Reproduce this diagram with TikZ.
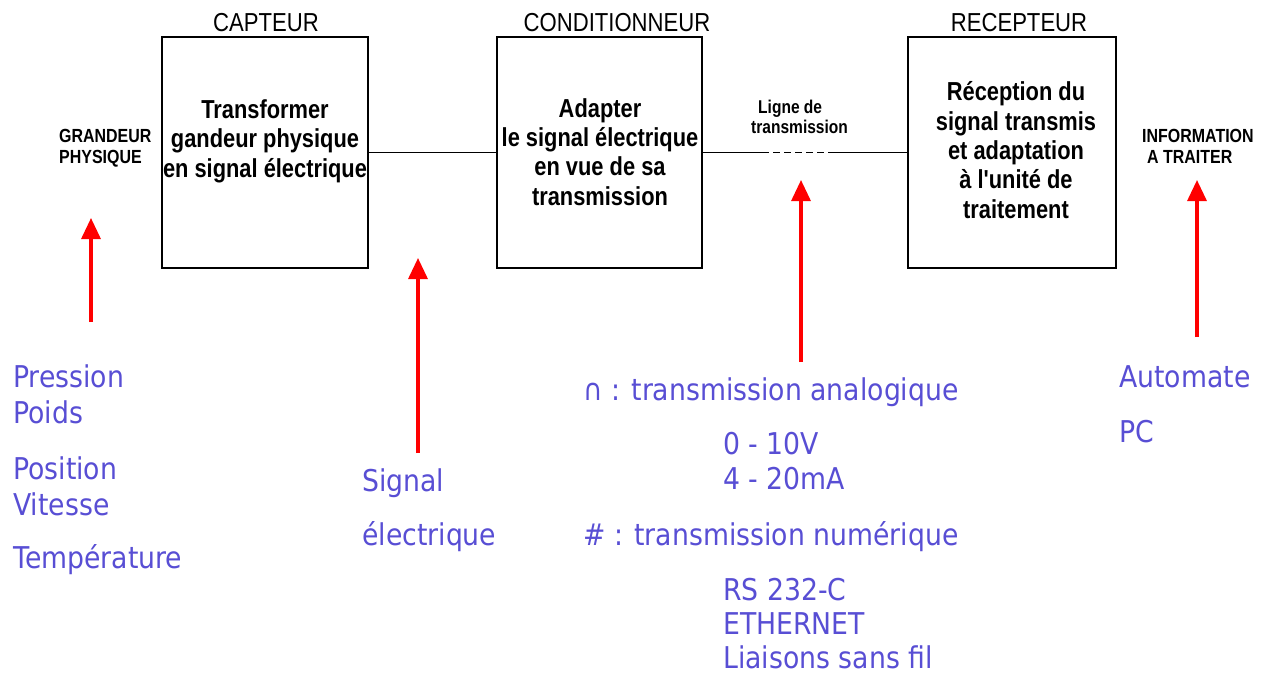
\documentclass[tikz,border=0pt]{standalone}
\usepackage{fontspec}
\setmainfont{Liberation Sans}
\newfontfamily\titlefont[FakeStretch=0.85]{Liberation Sans}
\newfontfamily\boxfont[FakeStretch=0.84]{Liberation Sans}
\newfontfamily\bluefont[FakeStretch=0.89]{DejaVu Sans}
\usetikzlibrary{arrows.meta}
\definecolor{labelblue}{RGB}{88,78,212}
\definecolor{arrowred}{RGB}{255,0,0}
\tikzset{
  blockbox/.style={draw=black, line width=2pt, inner sep=0pt, minimum height=231pt},
  blocktitle/.style={font=\titlefont\fontsize{26}{29}\selectfont, anchor=base, inner sep=0pt},
  boxtext/.style={font=\boxfont\bfseries\fontsize{26}{29.3}\selectfont, align=center, anchor=base, inner sep=0pt},
  sidelabel/.style={font=\boxfont\bfseries\fontsize{19}{21}\selectfont, align=left, anchor=base west, inner sep=0pt},
  linelabel/.style={font=\boxfont\bfseries\fontsize{18.5}{20}\selectfont, align=left, anchor=base west, inner sep=0pt},
  bluelabel/.style={font=\bluefont\fontsize{30}{36}\selectfont, text=labelblue, anchor=base west, inner sep=0pt},
  redarrow/.style={draw=arrowred, line width=3.2pt, -{Triangle[width=19pt,length=21pt]}},
  link/.style={draw=black, line width=1.8pt}
}
\begin{document}
\begin{tikzpicture}[x=1pt,y=-1pt]
\useasboundingbox (0,0) rectangle (1268,677);

% blocks
\node[blockbox, minimum width=206pt] (capteur) at (265,152.5) {};
\node[blockbox, minimum width=205pt] (cond) at (599.5,152.5) {};
\node[blockbox, minimum width=208pt] (recept) at (1012,152.5) {};

% titles
\node[blocktitle] (tcapteur) at (266,32) {CAPTEUR};
\node[blocktitle] (tcond) at (617,32) {CONDITIONNEUR};
\node[blocktitle] (trecept) at (1019,32) {RECEPTEUR};

% box texts (anchor base = baseline of last line)
\node[boxtext] (xcapteur) at (265,177) {Transformer\\gandeur physique\\en signal électrique};
\node[boxtext] (xcond) at (600,205) {Adapter\\le signal électrique\\en vue de sa\\transmission};
\node[boxtext] (xrecept) at (1016,218) {Réception du\\signal transmis\\et adaptation\\à l'unité de\\traitement};

% connectors
\coordinate (dashA) at (762,152.5);
\coordinate (dashB) at (830,152.5);
\draw[link] (capteur.east) -- (cond.west);
\draw[link] (cond.east) -- (dashA);
\draw[link, dash pattern=on 7pt off 4pt] (dashA) -- (dashB);
\draw[link] (dashB) -- (recept.west);

% side labels
\node[sidelabel] (grandeur) at (59,163) {GRANDEUR\\PHYSIQUE};
\node[sidelabel] (information) at (1142,163) {INFORMATION\\\hspace*{5pt}A TRAITER};
\node[linelabel] (ligne) at (751,133) {\hspace*{7pt}Ligne de\\transmission};

% red arrows
\coordinate (a1s) at (91,322);   \coordinate (a1e) at (91,218);
\coordinate (a2s) at (418,453);  \coordinate (a2e) at (418,258);
\coordinate (a3s) at (801,362);  \coordinate (a3e) at (801,180);
\coordinate (a4s) at (1197,337); \coordinate (a4e) at (1197,180);
\draw[redarrow] (a1s) -- (a1e);
\draw[redarrow] (a2s) -- (a2e);
\draw[redarrow] (a3s) -- (a3e);
\draw[redarrow] (a4s) -- (a4e);

% blue labels left
\node[bluelabel] (pression) at (13,387) {Pression};
\node[bluelabel] (poids) at (13,423) {Poids};
\node[bluelabel] (position) at (13,479) {Position};
\node[bluelabel] (vitesse) at (13,515) {Vitesse};
\node[bluelabel] (temperature) at (13,568) {Température};

% signal
\node[bluelabel] (signal) at (362,491) {Signal};
\node[bluelabel] (electrique) at (362,545) {électrique};

% transmission
\node[bluelabel] (analog) at (583,400) {∩ : transmission analogique};
\node[bluelabel] (volt) at (723,454) {0 - 10V};
\node[bluelabel] (amp) at (723,489) {4 - 20mA};
\node[bluelabel] (numer) at (583,545) {\# : transmission numérique};
\node[bluelabel] (rs) at (723,600) {RS 232-C};
\node[bluelabel] (eth) at (723,634) {ETHERNET};
\node[bluelabel] (liaisons) at (723,668) {Liaisons sans fil};

% right
\node[bluelabel] (automate) at (1119,387) {Automate};
\node[bluelabel] (pc) at (1119,442) {PC};
\end{tikzpicture}
\end{document}
